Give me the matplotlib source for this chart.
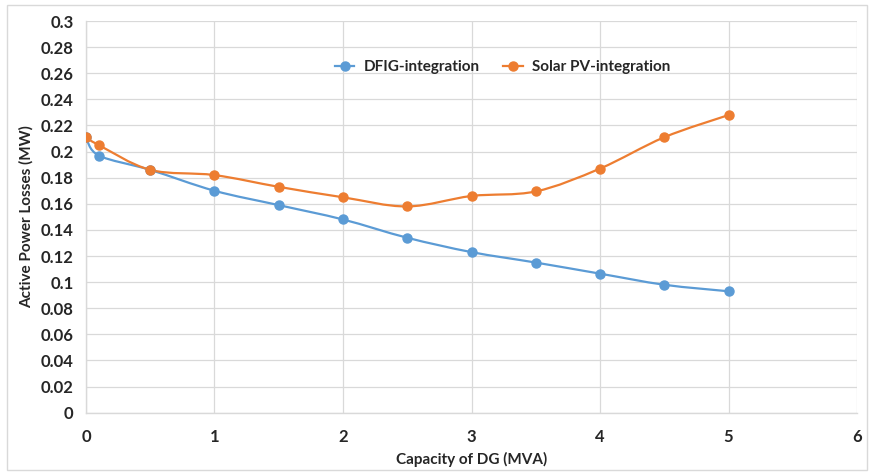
import numpy as np
import matplotlib
matplotlib.use('Agg')
import matplotlib.pyplot as plt
from matplotlib.path import Path
from matplotlib.patches import PathPatch, Rectangle
from matplotlib.lines import Line2D

plt.rcParams['font.family'] = ['Lato', 'DejaVu Sans']

capacity = [0, 0.1, 0.5, 1, 1.5, 2, 2.5, 3, 3.5, 4, 4.5, 5]
dfig_losses = [0.211, 0.197, 0.186, 0.170, 0.159, 0.148, 0.134, 0.123, 0.115, 0.1065, 0.098, 0.093]
solar_losses = [0.211, 0.205, 0.186, 0.182, 0.173, 0.165, 0.158, 0.166, 0.1695, 0.187, 0.211, 0.228]
series_names = ['DFIG-integration', 'Solar PV-integration']
colors = ['#5B9BD5', '#ED7D31']

def smooth_path(xs, ys):
    # excel-like smoothed line: bezier segments with catmull-rom control points
    pts = np.column_stack([xs, ys]).astype(float)
    n = len(pts)
    verts = [pts[0]]
    codes = [Path.MOVETO]
    for i in range(n - 1):
        p0 = pts[max(i - 1, 0)]
        p1 = pts[i]
        p2 = pts[i + 1]
        p3 = pts[min(i + 2, n - 1)]
        c1 = p1 + (p2 - p0) / 6
        c2 = p2 - (p3 - p1) / 6
        verts += [c1, c2, p2]
        codes += [Path.CURVE4] * 3
    return Path(verts, codes)

fig = plt.figure(figsize=(8.71, 4.73), dpi=100)
ax = fig.add_axes([0.0987, 0.1275, 0.8853, 0.828])

# chart border
fig.patches.append(Rectangle((0.008, 0.007), 0.987, 0.982, transform=fig.transFigure,
                             fill=False, edgecolor='#D9D9D9', linewidth=1))

for ys, c in zip([dfig_losses, solar_losses], colors):
    ax.add_patch(PathPatch(smooth_path(capacity, ys), facecolor='none', edgecolor=c,
                           linewidth=1.6, zorder=3))
    ax.plot(capacity, ys, linestyle='none', marker='o', markersize=6.5, color=c, zorder=4)

ax.set_xlim(0, 6)
ax.set_ylim(0, 0.3)
ax.set_xticks(range(0, 7))
ax.set_yticks(np.arange(0, 0.301, 0.02))
ax.set_yticklabels(['0'] + [f'{v:g}' for v in np.round(np.arange(0.02, 0.301, 0.02), 2)])
ax.grid(True, color='#D9D9D9', linewidth=0.9, zorder=0)
ax.set_axisbelow(True)
for s in ['top', 'right']:
    ax.spines[s].set_visible(False)
for s in ['left', 'bottom']:
    ax.spines[s].set_color('#D9D9D9')
    ax.spines[s].set_linewidth(1)
ax.tick_params(length=0, labelsize=12, labelcolor='#262626')
ax.tick_params(axis='x', pad=12)
ax.tick_params(axis='y', pad=9)
for lab in ax.get_xticklabels() + ax.get_yticklabels():
    lab.set_fontweight('bold')

ax.set_xlabel('Capacity of DG (MVA)', fontsize=11, fontweight='bold', color='#262626', labelpad=5)
ax.set_ylabel('Active Power Losses (MW)', fontsize=11, fontweight='bold', color='#262626', labelpad=5)

handles = [Line2D([], [], color=c, linewidth=1.6, marker='o', markersize=6.5) for c in colors]
leg = ax.legend(handles, series_names, loc='upper center', bbox_to_anchor=(0.54, 0.935),
                ncol=2, frameon=False, fontsize=11, handlelength=1.3, columnspacing=1.5,
                handletextpad=0.6)
for t in leg.get_texts():
    t.set_fontweight('bold')
    t.set_color('#262626')

fig.savefig('out.png', dpi=100)
